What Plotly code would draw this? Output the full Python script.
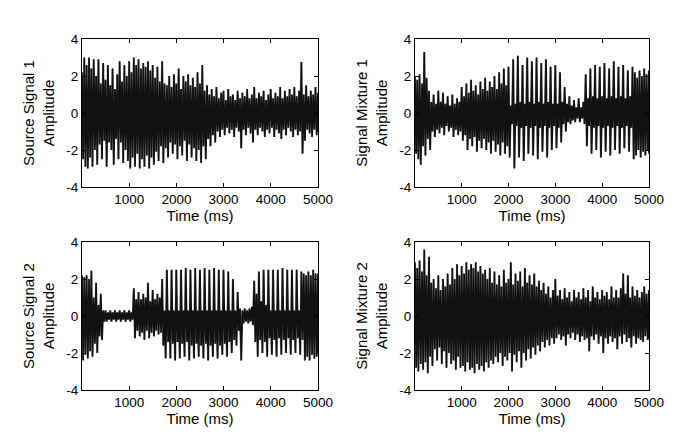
import plotly.graph_objects as go

# sample times (ms) at which the spike peaks were read
spike_t = list(range(0, 5001, 50))
xtick_vals = [1000, 2000, 3000, 4000, 5000]
ytick_vals = [-4, -2, 0, 2, 4]

titles = ["Source Signal 1<br>Amplitude", "Signal Mixture 1<br>Amplitude",
          "Source Signal 2<br>Amplitude", "Signal Mixture 2<br>Amplitude"]
xlabel = "Time (ms)"

# ---- Source Signal 1 ----
s1_hi = [2.2,3.0,2.6,3.0,2.4,2.9,2.0,2.9,1.6,2.7,
         1.8,2.6,1.5,2.4,1.3,2.1,2.8,1.7,2.6,2.0,
         2.8,2.2,3.0,2.6,2.9,2.4,2.7,2.5,2.8,2.3,
         2.6,1.9,2.5,1.7,2.8,1.6,1.5,2.0,1.4,2.1,
         1.6,2.4,1.3,2.0,1.7,2.1,1.5,1.9,1.4,2.2,
         1.6,2.6,1.2,1.5,1.0,1.3,0.9,1.4,0.8,1.1,
         1.2,0.7,1.3,0.9,1.0,0.7,1.2,0.8,1.1,0.9,
         1.3,0.8,1.0,1.4,0.8,1.1,0.9,1.2,0.7,1.0,
         1.3,0.8,1.1,0.9,1.4,0.8,1.2,0.9,1.3,1.0,
         1.4,0.9,1.2,2.75,1.0,1.5,0.9,1.2,1.0,1.4,
         1.1]
s1_lo = [-2.5,-2.9,-3.0,-2.4,-2.9,-2.0,-2.8,-1.7,-2.5,-1.5,
         -2.9,-1.6,-2.0,-2.8,-1.4,-2.5,-1.6,-2.7,-2.0,-2.6,
         -3.0,-2.4,-2.9,-2.2,-3.0,-2.5,-2.9,-2.3,-3.0,-2.4,
         -2.8,-2.1,-2.6,-1.8,-2.7,-1.9,-2.4,-1.6,-2.2,-1.7,
         -2.5,-1.8,-2.3,-1.5,-2.6,-1.7,-2.4,-1.9,-2.6,-2.0,
         -2.7,-1.8,-2.5,-1.4,-1.8,-1.2,-1.6,-1.0,-1.3,-0.9,
         -1.2,-0.8,-1.1,-0.9,-1.3,-0.8,-1.0,-1.9,-0.9,-1.2,
         -0.8,-1.1,-1.6,-0.9,-1.2,-0.8,-1.0,-1.3,-0.9,-1.1,
         -0.8,-1.3,-0.9,-1.1,-1.4,-0.9,-1.2,-0.8,-1.0,-1.3,
         -0.9,-1.2,-1.0,-2.2,-1.5,-0.9,-1.1,-1.3,-0.9,-1.2,
         -1.0]

# ---- Signal Mixture 1 ----
m1_hi = [2.0,1.8,2.1,1.6,3.3,1.9,1.2,0.6,1.0,0.5,
         1.2,0.6,1.1,0.5,0.9,0.4,1.0,0.5,0.8,0.6,
         1.4,0.9,1.6,1.1,1.8,1.2,1.5,1.0,1.7,1.3,
         1.9,1.2,1.7,1.4,2.0,1.3,2.2,1.6,2.4,1.5,
         2.5,0.4,2.9,0.5,3.1,0.6,2.6,0.5,3.0,0.6,
         2.8,0.5,3.0,0.6,2.7,0.5,2.9,0.6,2.5,0.5,
         2.6,0.5,2.2,0.6,1.4,0.5,0.9,0.4,0.7,0.3,
         0.8,0.3,0.6,2.1,0.8,2.4,0.9,2.6,0.8,2.5,
         0.9,2.7,0.8,2.4,0.9,2.8,0.8,2.5,0.9,2.6,
         0.8,2.3,0.9,2.5,2.2,1.9,2.3,2.0,2.4,2.1,
         2.3]
m1_lo = [-2.2,-2.5,-2.8,-1.8,-2.3,-1.4,-2.0,-1.0,-1.3,-0.9,
         -1.1,-0.8,-1.2,-0.7,-1.0,-0.8,-1.3,-0.9,-1.2,-1.0,
         -1.5,-1.2,-2.0,-1.4,-1.8,-1.3,-2.1,-1.5,-1.9,-1.4,
         -2.0,-1.6,-2.2,-1.5,-2.1,-1.7,-2.3,-1.6,-2.2,-1.8,
         -2.4,-0.6,-3.0,-0.7,-2.4,-0.8,-2.6,-0.7,-2.2,-0.8,
         -2.3,-0.7,-2.5,-0.8,-2.1,-0.7,-2.4,-0.8,-2.0,-0.7,
         -1.9,-0.8,-1.6,-0.6,-1.0,-0.5,-0.6,-0.4,-0.5,-0.3,
         -0.5,-0.3,-0.6,-1.8,-0.7,-2.2,-0.8,-2.0,-0.7,-2.4,
         -0.8,-2.1,-0.7,-2.3,-0.8,-2.0,-0.7,-2.2,-0.8,-1.9,
         -0.7,-2.1,-0.8,-2.5,-2.3,-2.0,-2.4,-2.1,-2.3,-2.0,
         -2.2]

# ---- Source Signal 2 ----
s2_hi = [2.2,2.1,2.2,2.0,2.45,1.0,1.8,0.6,1.2,0.3,
         0.3,0.2,0.3,0.2,0.3,0.2,0.3,0.2,0.3,0.2,
         0.3,0.2,1.5,0.9,1.3,0.9,1.2,1.0,1.8,0.8,
         1.4,0.9,1.2,1.0,2.0,0.3,2.5,0.3,2.5,0.3,
         2.5,0.3,2.5,0.3,2.6,0.3,2.5,0.3,2.6,0.3,
         2.5,0.3,2.6,0.3,2.5,0.3,2.6,0.3,2.5,0.3,
         2.5,0.3,2.4,0.3,2.0,0.3,1.3,0.4,0.3,0.4,
         0.3,0.4,0.5,1.9,1.2,2.4,0.8,2.5,0.6,2.5,
         0.3,2.5,0.3,2.5,0.3,2.6,0.3,2.5,0.3,2.5,
         0.3,2.5,0.3,2.4,2.3,2.2,2.4,2.2,2.5,2.3,
         2.3]
s2_lo = [-2.4,-2.1,-2.3,-1.9,-2.2,-1.5,-2.0,-1.1,-1.3,-0.3,
         -0.3,-0.2,-0.3,-0.2,-0.3,-0.2,-0.3,-0.2,-0.3,-0.2,
         -0.3,-0.2,-1.2,-0.8,-1.1,-0.9,-1.3,-0.8,-1.2,-0.9,
         -1.1,-0.8,-1.0,-0.9,-1.6,-2.3,-1.4,-2.3,-1.5,-2.4,
         -1.4,-2.3,-1.5,-2.2,-1.4,-2.4,-1.6,-2.3,-1.5,-2.2,
         -1.6,-2.3,-1.5,-2.4,-1.6,-2.2,-1.5,-2.3,-1.6,-2.1,
         -1.5,-2.2,-1.4,-2.0,-1.3,-1.6,-0.8,-2.4,-0.4,-0.3,
         -0.4,-0.3,-0.5,-1.4,-2.2,-1.3,-2.0,-1.4,-2.2,-1.2,
         -2.1,-1.3,-2.2,-1.2,-2.1,-1.3,-2.0,-1.2,-2.1,-1.3,
         -2.0,-1.2,-2.1,-1.3,-2.4,-2.2,-2.4,-2.1,-2.3,-2.2,
         -2.0]

# ---- Signal Mixture 2 ----
m2_hi = [2.9,2.6,3.0,2.4,3.6,2.2,3.2,1.8,2.0,1.5,
         2.2,1.4,2.0,1.6,2.3,1.7,2.6,2.0,2.8,2.2,
         2.7,2.3,2.9,2.5,2.8,2.6,2.9,2.4,2.7,2.3,
         2.5,2.0,2.6,1.8,2.4,1.7,2.2,1.6,2.5,1.8,
         2.0,2.9,1.7,2.3,1.9,2.4,1.6,2.6,1.8,2.2,
         1.7,2.3,1.6,1.9,1.4,1.8,1.2,1.6,1.0,1.4,
         2.0,1.1,1.4,0.9,1.5,1.0,1.3,0.8,1.4,1.0,
         1.3,0.9,1.5,1.0,1.4,0.8,1.6,1.0,1.3,0.9,
         1.4,1.1,1.3,0.9,1.6,1.0,1.4,1.0,1.5,2.3,
         1.2,2.2,1.0,1.6,1.1,1.4,1.0,1.3,1.6,1.2,
         1.4]
m2_lo = [-2.8,-3.0,-2.6,-2.9,-2.5,-3.1,-2.2,-2.7,-1.8,-2.4,
         -1.7,-2.6,-1.9,-2.8,-2.0,-2.6,-2.4,-2.9,-2.2,-2.8,
         -2.7,-3.0,-2.5,-2.9,-2.8,-3.1,-2.6,-2.9,-2.7,-3.0,
         -2.5,-2.8,-2.4,-2.6,-2.2,-2.5,-2.0,-2.7,-2.2,-2.4,
         -2.0,-3.0,-2.1,-2.5,-1.9,-2.8,-2.0,-2.4,-1.8,-2.3,
         -1.7,-2.1,-1.6,-1.9,-1.4,-1.7,-1.3,-1.6,-1.2,-1.5,
         -1.2,-1.0,-1.3,-1.1,-1.6,-1.0,-1.2,-0.9,-1.3,-1.0,
         -1.4,-1.1,-1.3,-1.2,-1.9,-1.1,-1.3,-1.0,-1.5,-1.1,
         -2.0,-1.2,-1.5,-1.1,-1.4,-1.2,-1.8,-1.1,-1.5,-1.0,
         -1.4,-1.2,-1.7,-1.1,-1.5,-1.2,-1.3,-1.4,-1.1,-1.3,
         -1.2]

panels = [(s1_hi, s1_lo), (m1_hi, m1_lo), (s2_hi, s2_lo), (m2_hi, m2_lo)]

W, H = 698, 443
def dx(px):
    return px / W
def dy(py):
    return (H - py) / H

x_domains = [[dx(82), dx(318)], [dx(415), dx(649)], [dx(82), dx(318)], [dx(415), dx(649)]]
y_domains = [[dy(187), dy(39)], [dy(187), dy(39)], [dy(390), dy(242)], [dy(390), dy(242)]]

FONT = "Liberation Sans, Arial, Helvetica, sans-serif"
TICK_SIZE = 13.5
TITLE_SIZE = 15
fig = go.Figure()

for k, (hi, lo) in enumerate(panels):
    assert len(hi) == len(spike_t) and len(lo) == len(spike_t)
    xa = "x" if k == 0 else f"x{k+1}"
    ya = "y" if k == 0 else f"y{k+1}"
    # black trace: peak at t, trough at t+25
    bx, by = [], []
    for t, h, l in zip(spike_t, hi, lo):
        bx.append(t); by.append(h)
        bx.append(min(t + 25, 5000)); by.append(l)
    # grey trace: the same readings, interleaved between the black strokes
    gx, gy = [], []
    for i, t in enumerate(spike_t[:-1]):
        gx.append(t + 12); gy.append(lo[i])
        gx.append(t + 37); gy.append(hi[i + 1])
    fig.add_trace(go.Scatter(x=gx, y=gy, mode="lines", xaxis=xa, yaxis=ya,
                             line=dict(color="#8e8e8e", width=1.2),
                             hoverinfo="skip", showlegend=False))
    fig.add_trace(go.Scatter(x=bx, y=by, mode="lines", xaxis=xa, yaxis=ya,
                             line=dict(color="#111111", width=1.7),
                             hoverinfo="skip", showlegend=False))

    axcommon = dict(showline=True, linecolor="black", linewidth=1, mirror="ticks",
                    ticks="inside", ticklen=4, tickcolor="black", showgrid=False,
                    automargin=False,
                    tickfont=dict(family=FONT, size=TICK_SIZE, color="black"))
    fig.layout[("xaxis" if k == 0 else f"xaxis{k+1}")] = dict(
        domain=x_domains[k], anchor=ya, range=[0, 5000], tickvals=xtick_vals,
        ticktext=[str(v) for v in xtick_vals], zeroline=False,
        title=dict(text=xlabel, font=dict(family=FONT, size=TITLE_SIZE, color="black"), standoff=2),
        **axcommon)
    fig.layout[("yaxis" if k == 0 else f"yaxis{k+1}")] = dict(
        domain=y_domains[k], anchor=xa, range=[-4, 4], tickvals=ytick_vals,
        ticktext=[str(v) for v in ytick_vals], zeroline=True, zerolinecolor="#111111",
        zerolinewidth=1,
        title=dict(text=titles[k], font=dict(family=FONT, size=TITLE_SIZE, color="black"), standoff=8),
        **axcommon)

fig.update_layout(width=W, height=H, margin=dict(l=0, r=0, t=0, b=0),
                  paper_bgcolor="white", plot_bgcolor="white",
                  font=dict(family=FONT, size=TICK_SIZE, color="black"))

fig.write_html("out.html")
